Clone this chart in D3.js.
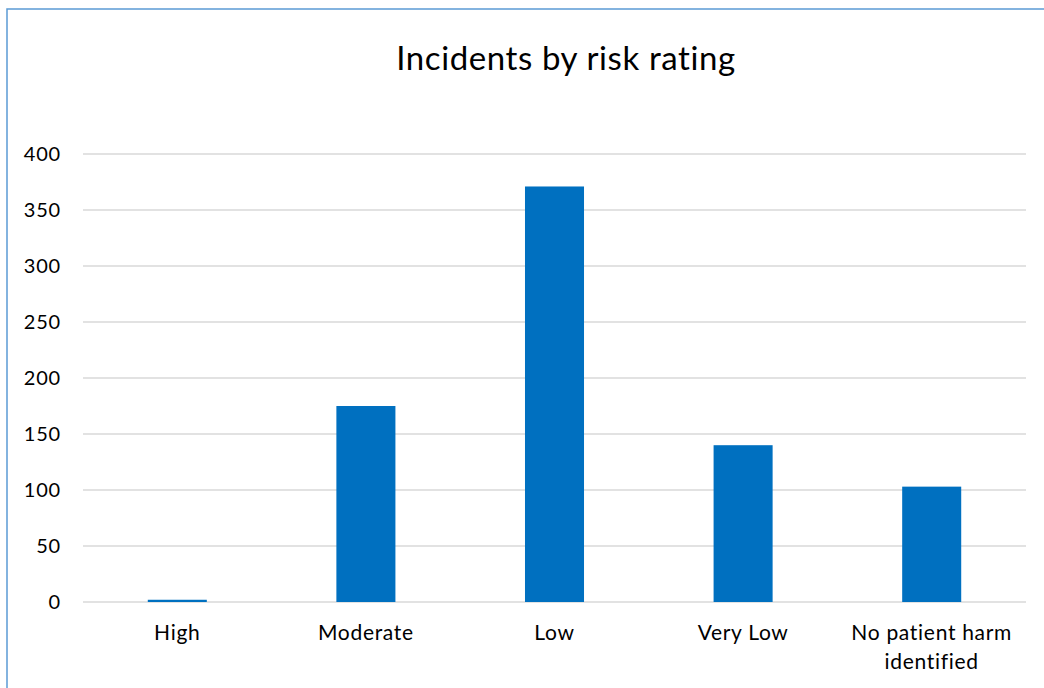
<!DOCTYPE html>
<html>
<head>
<meta charset="utf-8">
<script src="https://cdn.jsdelivr.net/npm/d3@7"></script>
<style>
  html, body { margin: 0; padding: 0; background: #fff; }
  svg { display: block; }
  text { font-family: Lato, "Open Sans", sans-serif; fill: #000; }
</style>
</head>
<body>
<svg id="chart" width="1044" height="688"></svg>
<script>
// Incidents per risk rating
const categories = ["High", "Moderate", "Low", "Very Low", "No patient harm identified"];
const incidents = [2, 175, 371, 140, 103];
const yTicks = [0, 50, 100, 150, 200, 250, 300, 350, 400];
const chartTitle = "Incidents by risk rating";

const W = 1044, H = 688;
const margin = { left: 83, right: 18, top: 154, bottom: 86 };
const labelFont = "Lato, 'Open Sans', sans-serif";

const svg = d3.select("#chart");

// Chart-area frame (blue outline)
svg.append("rect")
  .attr("x", 7).attr("y", 9)
  .attr("width", W + 10).attr("height", H + 10)
  .attr("fill", "none")
  .attr("stroke", "#5b9bd5")
  .attr("stroke-width", 1.5);

const x = d3.scaleBand()
  .domain(categories)
  .range([margin.left, W - margin.right])
  .paddingInner(0.687)
  .paddingOuter(0.687 / 2);

const y = d3.scaleLinear()
  .domain([0, 400])
  .range([H - margin.bottom, margin.top]);

// Horizontal gridlines
svg.append("g")
  .selectAll("line")
  .data(yTicks)
  .join("line")
  .attr("x1", margin.left).attr("x2", W - margin.right)
  .attr("y1", d => y(d)).attr("y2", d => y(d))
  .attr("stroke", "#d9d9d9")
  .attr("stroke-width", 1.5);

// Y axis labels
const yAxis = d3.axisLeft(y).tickValues(yTicks).tickSize(0).tickPadding(0);
svg.append("g")
  .attr("transform", `translate(61,0)`)
  .call(yAxis)
  .call(g => g.select(".domain").remove())
  .call(g => g.selectAll("text")
    .style("font-family", labelFont)
    .style("letter-spacing", "0.8px")
    .attr("font-size", 20)
    .attr("fill", "#000"));

// Bars
svg.append("g")
  .selectAll("rect")
  .data(categories)
  .join("rect")
  .attr("x", d => x(d))
  .attr("width", x.bandwidth())
  .attr("y", (d, i) => y(incidents[i]))
  .attr("height", (d, i) => y(0) - y(incidents[i]))
  .attr("fill", "#0070c0");

// Category labels, wrapped onto two lines where long
const labelG = svg.append("g");
categories.forEach(c => {
  const lines = c.length > 15 ? ["No patient harm", "identified"] : [c];
  const cx = x(c) + x.bandwidth() / 2;
  const t = labelG.append("text")
    .attr("text-anchor", "middle")
    .attr("font-size", 21)
    .style("letter-spacing", "0.7px")
    .attr("x", cx)
    .attr("y", 640);
  lines.forEach((ln, i) => {
    t.append("tspan")
      .attr("x", cx)
      .attr("dy", i === 0 ? 0 : 29)
      .text(ln);
  });
});

// Title
svg.append("text")
  .attr("x", 566)
  .attr("y", 70)
  .attr("text-anchor", "middle")
  .attr("font-size", 33)
  .style("letter-spacing", "0.6px")
  .text(chartTitle);
</script>
</body>
</html>
